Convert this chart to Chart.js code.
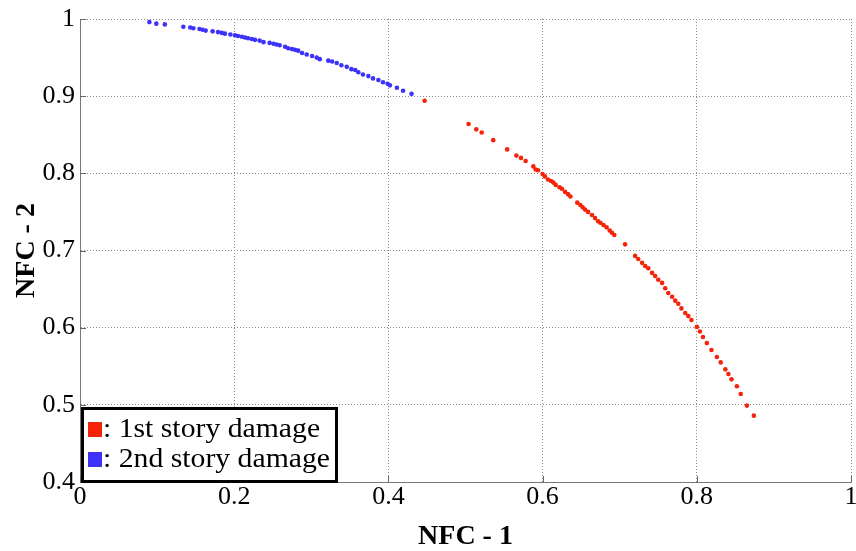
<!DOCTYPE html>
<html>
<head>
<meta charset="utf-8">
<script src="https://cdn.jsdelivr.net/npm/chart.js@4.4.1/dist/chart.umd.min.js"></script>
<style>
  html, body { margin: 0; padding: 0; background: #fff; }
  #wrap { width: 856px; height: 551px; }
</style>
</head>
<body>
<div id="wrap"><canvas id="nfcChart"></canvas></div>
<script>
// NFC-1 vs NFC-2
const firstStoryX = [0.447, 0.504, 0.514, 0.521, 0.536, 0.554, 0.566, 0.572, 0.578,
  0.588, 0.591, 0.594, 0.600, 0.603, 0.607, 0.611, 0.614, 0.617, 0.622, 0.625, 0.629, 0.633, 0.636,
  0.645, 0.649, 0.652, 0.655, 0.659, 0.664, 0.668, 0.672, 0.675, 0.679, 0.683, 0.687, 0.690, 0.693,
  0.707, 0.720, 0.724, 0.729, 0.733, 0.737, 0.742, 0.746, 0.750, 0.755, 0.759, 0.763, 0.768, 0.772,
  0.776, 0.780, 0.785, 0.789, 0.793, 0.800, 0.804, 0.808,
  0.813, 0.819, 0.826, 0.831, 0.837, 0.841, 0.845, 0.852, 0.857, 0.865, 0.874]
const firstStoryY = [0.894, 0.864, 0.857, 0.853, 0.843, 0.831, 0.823, 0.820, 0.816,
  0.809, 0.805, 0.804, 0.799, 0.796, 0.792, 0.790, 0.788, 0.785, 0.782, 0.780, 0.776, 0.773, 0.770,
  0.762, 0.759, 0.756, 0.753, 0.750, 0.746, 0.742, 0.738, 0.736, 0.733, 0.730, 0.726, 0.723, 0.720,
  0.708, 0.693, 0.689, 0.684, 0.680, 0.677, 0.671, 0.667, 0.662, 0.658, 0.651, 0.645, 0.640, 0.635,
  0.631, 0.625, 0.619, 0.615, 0.610, 0.601, 0.595, 0.588,
  0.580, 0.571, 0.562, 0.555, 0.546, 0.540, 0.533, 0.524, 0.514, 0.499, 0.486]

const secondStoryX = [0.090, 0.099, 0.110, 0.134, 0.143, 0.147, 0.155, 0.159, 0.163, 0.172, 0.179,
  0.184, 0.188, 0.195, 0.201, 0.205, 0.210, 0.214, 0.218, 0.223, 0.227, 0.233, 0.238, 0.246, 0.251,
  0.255, 0.259, 0.266, 0.270, 0.275, 0.279, 0.283, 0.288, 0.294, 0.301, 0.307, 0.311, 0.322, 0.327,
  0.333, 0.339, 0.346, 0.352, 0.357, 0.361, 0.367, 0.374, 0.380, 0.387, 0.393, 0.399, 0.402, 0.411,
  0.419, 0.430]
const secondStoryY = [0.996, 0.994, 0.993, 0.990, 0.989, 0.988, 0.987, 0.986, 0.985, 0.984, 0.983,
  0.982, 0.981, 0.980, 0.979, 0.978, 0.977, 0.976, 0.975, 0.974, 0.973, 0.972, 0.970, 0.969, 0.968,
  0.967, 0.966, 0.964, 0.962, 0.961, 0.960, 0.959, 0.956, 0.954, 0.952, 0.950, 0.948, 0.946, 0.945,
  0.943, 0.940, 0.938, 0.935, 0.934, 0.931, 0.928, 0.926, 0.923, 0.921, 0.918, 0.916, 0.914, 0.911,
  0.907, 0.903]

const seriesNames = ['1st story damage', '2nd story damage']
const xTicks = [0, 0.2, 0.4, 0.6, 0.8, 1]
const yTicks = [0.4, 0.5, 0.6, 0.7, 0.8, 0.9, 1]

const toPoints = (xs, ys) => xs.map((x, i) => ({ x: x, y: ys[i] }))

const red = 'rgb(245, 35, 10)'
const blue = 'rgb(60, 50, 250)'
const serif = '"Liberation Serif", "Times New Roman", serif'

// legend drawn inside the plot, bottom-left, with a heavy black frame
const boxLegend = {
  id: 'boxLegend',
  afterDraw(chart) {
    const ctx = chart.ctx
    const area = chart.chartArea
    const x0 = area.left + 1, y0 = area.bottom - 75, w = 257, h = 76
    ctx.save()
    ctx.fillStyle = '#fff'
    ctx.fillRect(x0, y0, w, h)
    ctx.lineWidth = 3
    ctx.strokeStyle = '#000'
    ctx.strokeRect(x0 + 1.5, y0 + 1.5, w - 3, h - 3)
    ctx.font = '27px ' + serif
    ctx.textBaseline = 'middle'
    chart.data.datasets.forEach((ds, i) => {
      const cy = y0 + 23 + i * 30
      ctx.fillStyle = ds.backgroundColor
      ctx.fillRect(x0 + 7, cy - 8, 14, 15)
      ctx.fillStyle = '#000'
      // the original lettering is a bit wider than the font, stretch to fit
      const txt = ': ' + ds.label
      const tw = ctx.measureText(': 2nd story damage').width
      const sx = (w - 30) / tw
      ctx.save()
      ctx.translate(x0 + 22, cy)
      ctx.scale(sx, 1)
      ctx.fillText(txt, 0, 0)
      ctx.restore()
    })
    ctx.restore()
  }
}

// short inward tick marks on the left and bottom axes
const innerTicks = {
  id: 'innerTicks',
  afterDatasetsDraw(chart) {
    const ctx = chart.ctx
    const a = chart.chartArea
    const xs = chart.scales.x, ys = chart.scales.y
    ctx.save()
    ctx.strokeStyle = '#666'
    ctx.lineWidth = 1
    ctx.beginPath()
    yTicks.forEach(v => {
      const py = Math.round(ys.getPixelForValue(v)) + 0.5
      ctx.moveTo(a.left, py); ctx.lineTo(a.left + 6, py)
    })
    xTicks.forEach(v => {
      const px = Math.round(xs.getPixelForValue(v)) + 0.5
      ctx.moveTo(px, a.bottom); ctx.lineTo(px, a.bottom - 6)
    })
    ctx.stroke()
    ctx.restore()
  }
}

const data = {
  datasets: [
    {
      label: seriesNames[0],
      data: toPoints(firstStoryX, firstStoryY),
      backgroundColor: red,
      borderWidth: 0,
      pointRadius: 2.3
    },
    {
      label: seriesNames[1],
      data: toPoints(secondStoryX, secondStoryY),
      backgroundColor: blue,
      borderWidth: 0,
      pointRadius: 2.3
    }
  ]
}

const config = {
  type: 'scatter',
  data: data,
  options: {
    responsive: true,
    maintainAspectRatio: false,
    animation: false,
    layout: { padding: { top: 19, right: 0, left: 0, bottom: 0 } },
    plugins: {
      legend: { display: false },
      tooltip: { enabled: false }
    },
    scales: {
      x: {
        type: 'linear',
        min: 0,
        max: 1,
        afterBuildTicks: s => { s.ticks = xTicks.map(v => ({ value: v })) },
        afterFit: s => { s.height = 69; s.paddingRight = 5; s.paddingLeft = 0 },
        grid: { color: '#888', lineWidth: 1, drawTicks: false },
        border: { display: true, color: '#777', width: 1, dash: [1, 2] },
        ticks: {
          color: '#000',
          padding: 0,
          maxRotation: 0,
          font: { family: serif, size: 26 },
          callback: v => String(v)
        },
        title: {
          display: true,
          text: 'NFC - 1',
          color: '#000',
          font: { family: serif, size: 28, weight: 'bold', lineHeight: 1 },
          padding: { top: 0, bottom: 0 }
        }
      },
      y: {
        type: 'linear',
        min: 0.4,
        max: 1,
        afterBuildTicks: s => { s.ticks = yTicks.map(v => ({ value: v })) },
        afterFit: s => { s.width = 80; s.paddingTop = 0; s.paddingBottom = 0 },
        grid: { color: '#888', lineWidth: 1, drawTicks: false },
        border: { display: true, color: '#777', width: 1, dash: [1, 2] },
        ticks: {
          color: '#000',
          padding: 5,
          font: { family: serif, size: 26 },
          callback: v => String(v)
        },
        title: {
          display: true,
          text: 'NFC - 2',
          color: '#000',
          font: { family: serif, size: 28, weight: 'bold' },
          padding: { top: 10, bottom: 0 }
        }
      }
    }
  },
  plugins: [innerTicks, boxLegend]
}

new Chart(document.getElementById('nfcChart').getContext('2d'), config)
</script>
</body>
</html>
